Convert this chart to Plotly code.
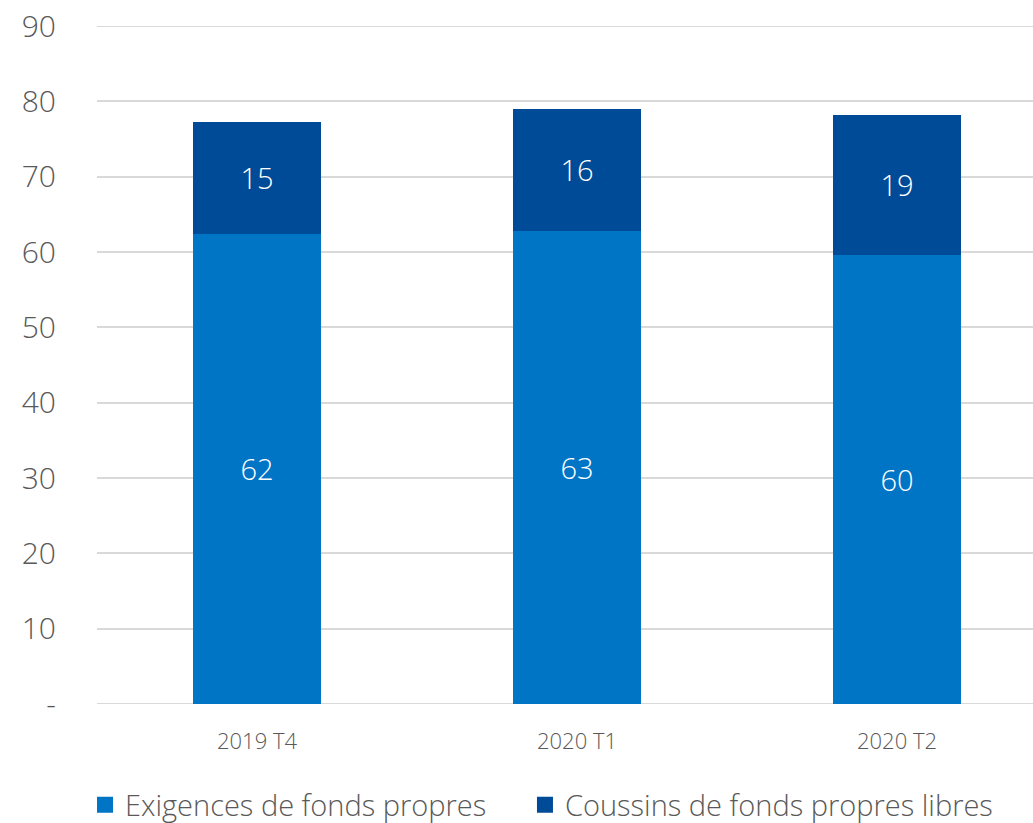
import plotly.graph_objects as go

categories = ["2019 T4", "2020 T1", "2020 T2"]
exigences = [62.4, 62.8, 59.6]
coussins = [14.9, 16.2, 18.6]
series_names = ["Exigences de fonds propres", "Coussins de fonds propres libres"]
series_colors = ["#0075C6", "#004B98"]
y_tickvals = [0, 10, 20, 30, 40, 50, 60, 70, 80, 90]
y_ticktext = ["-", "10", "20", "30", "40", "50", "60", "70", "80", "90"]

FONT = "Open Sans"
GRAY = "#595959"

fig = go.Figure()
for name, vals, col in zip(series_names, [exigences, coussins], series_colors):
    fig.add_trace(go.Bar(
        name=name, x=categories, y=vals, showlegend=False,
        marker=dict(color=col, line=dict(width=0)),
        texttemplate="%{y:.0f}", textposition="inside", insidetextanchor="middle",
        textfont=dict(color="white", size=29, family=FONT, weight=300),
        width=0.4,
    ))
# legend entries with larger square swatches, one legend box each
for name, col, lg in zip(series_names, series_colors, ["legend", "legend2"]):
    fig.add_trace(go.Scatter(
        name=name, x=[None], y=[None], mode="markers",
        marker=dict(symbol="square", size=20, color=col), showlegend=True, legend=lg,
    ))

legend_common = dict(orientation="h", xref="container", yref="container",
                     xanchor="left", y=0.0219, yanchor="middle",
                     font=dict(size=29, color=GRAY, family=FONT, weight=300),
                     itemsizing="trace", itemwidth=30, borderwidth=0,
                     bgcolor="rgba(0,0,0,0)")

fig.update_layout(
    barmode="stack",
    width=1033, height=823,
    margin=dict(l=97, r=0, t=26, b=119),
    paper_bgcolor="white", plot_bgcolor="white",
    font=dict(family=FONT, color=GRAY),
    showlegend=True,
    legend=dict(x=0.0823, **legend_common),
    legend2=dict(x=0.5082, **legend_common),
    xaxis=dict(range=[-0.5, 2.425], showgrid=False, showline=False, zeroline=False,
               tickfont=dict(size=22, color=GRAY, family=FONT, weight=300),
               ticks="", ticklabelstandoff=22),
    yaxis=dict(range=[0, 90], tickvals=y_tickvals, ticktext=y_ticktext,
               showgrid=True, gridcolor="#D9D9D9", gridwidth=2,
               zeroline=False, showline=False, ticks="",
               tickfont=dict(size=30, color=GRAY, family=FONT, weight=300),
               ticklabelstandoff=40),
)
for yv in (0, 90):
    fig.add_hline(y=yv, line=dict(color="#D9D9D9", width=2), layer="below")

fig.write_html("out.html")
